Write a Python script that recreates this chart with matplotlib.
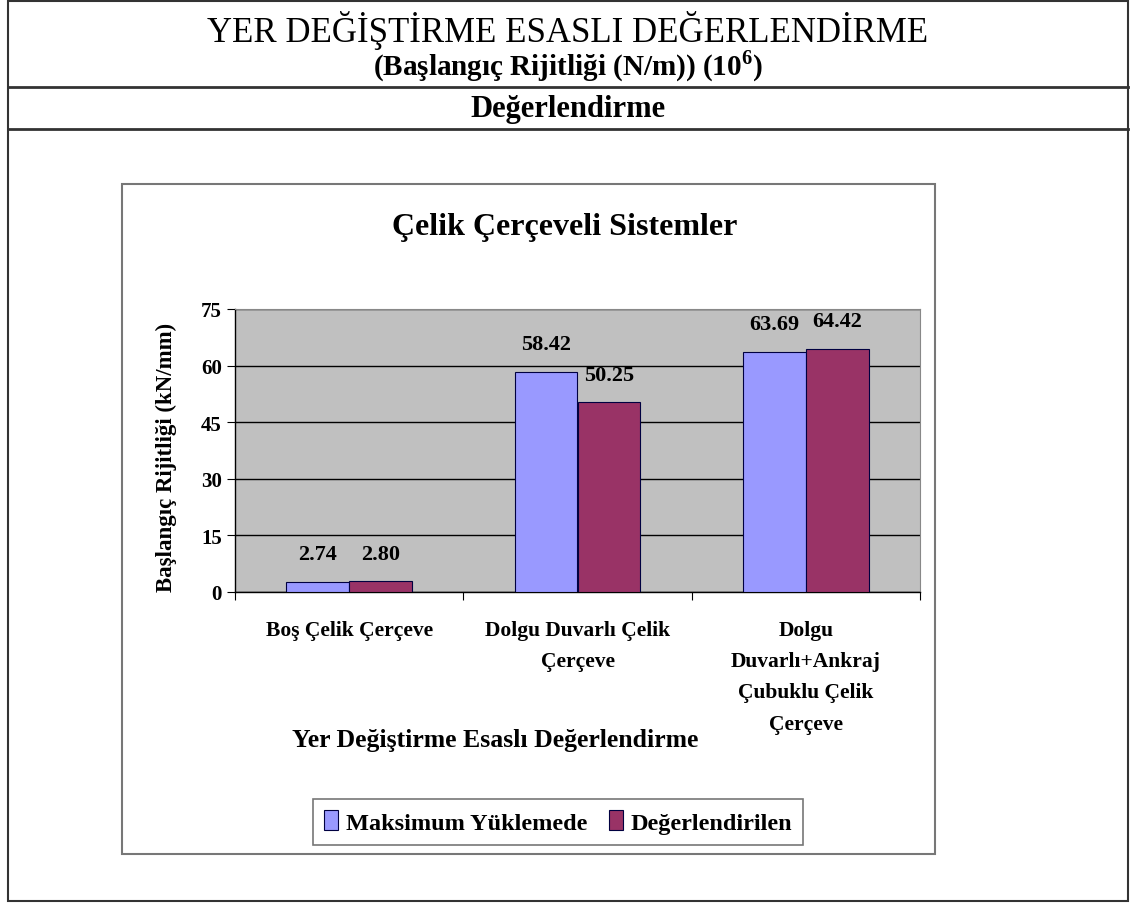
import matplotlib
matplotlib.use("Agg")
import matplotlib.pyplot as plt
import numpy as np
from matplotlib.patches import Rectangle
from matplotlib.lines import Line2D

categories = ["Boş Çelik Çerçeve", "Dolgu Duvarlı Çelik\nÇerçeve",
              "Dolgu\nDuvarlı+Ankraj\nÇubuklu Çelik\nÇerçeve"]
series_names = ["Maksimum Yüklemede", "Değerlendirilen"]
maks = [2.74, 58.42, 63.69]
deger = [2.80, 50.25, 64.42]
yticks = [0, 15, 30, 45, 60, 75]

plt.rcParams["mathtext.fontset"] = "custom"
plt.rcParams["mathtext.rm"] = "Liberation Serif"
plt.rcParams["mathtext.bf"] = "Liberation Serif:bold"

W, H = 1136, 904
fig = plt.figure(figsize=(W / 100, H / 100), dpi=100)
fig.patch.set_facecolor("white")
FAM = ["Liberation Serif", "DejaVu Serif"]

def fx(x): return x / W
def fy(y): return 1 - y / H

# outer table
fig.add_artist(Rectangle((fx(8), fy(902)), fx(1128) - fx(8), fy(2) - fy(902),
                         transform=fig.transFigure, fill=False, edgecolor="#333333", lw=1.5))
for yy in (88, 130):
    fig.add_artist(Line2D([fx(8), fx(1128)], [fy(yy), fy(yy)], transform=fig.transFigure,
                          color="#333333", lw=2))
fig.text(0.5, fy(31), "YER DEĞİŞTİRME ESASLI DEĞERLENDİRME", ha="center", va="center",
         family=FAM, fontsize=25)
fig.text(0.5, fy(66), "(Başlangıç Rijitliği (N/m)) (10$^{\\mathbf{6}}$)", ha="center", va="center",
         family=FAM, fontsize=21, fontweight="bold")
fig.text(0.5, fy(110), "Değerlendirme", ha="center", va="center",
         family=FAM, fontsize=22, fontweight="bold")

# chart frame
fig.add_artist(Rectangle((fx(122), fy(855)), fx(935) - fx(122), fy(185) - fy(855),
                         transform=fig.transFigure, fill=False, edgecolor="#777777", lw=1.5))
fig.text(fx(565), fy(228), "Çelik Çerçeveli Sistemler", ha="center", va="center",
         family=FAM, fontsize=23, fontweight="bold")

ax = fig.add_axes([fx(235), fy(593), fx(920) - fx(235), fy(310) - fy(593)])
ax.set_facecolor("#C0C0C0")
x = np.arange(len(categories))
bw = 0.275
b1 = ax.bar(x - bw / 2, maks, bw, color="#9999FF", edgecolor="#000040", lw=0.8,
            label=series_names[0], zorder=3)
b2 = ax.bar(x + bw / 2, deger, bw, color="#993366", edgecolor="#000040", lw=0.8,
            label=series_names[1], zorder=3)
for bars, vals in ((b1, maks), (b2, deger)):
    for r, v in zip(bars, vals):
        ax.annotate(f"{v:.2f}", (r.get_x() + r.get_width() / 2, v), xytext=(0, 20),
                    textcoords="offset points", ha="center", va="center",
                    family=FAM, fontsize=16, fontweight="bold", zorder=4)
ax.set_xlim(-0.5, 2.5)
ax.set_ylim(0, 75)
ax.set_yticks(yticks)
ax.yaxis.grid(True, color="black", lw=1, zorder=1)
ax.set_xticks([-0.5, 0.5, 1.5, 2.5])
ax.set_xticklabels([])
ax.set_xticks(x, minor=True)
ax.set_xticklabels(categories, minor=True, family=FAM, fontsize=15.5, fontweight="bold",
                   linespacing=1.75)
ax.tick_params(axis="x", which="minor", length=0, pad=20)
ax.tick_params(axis="x", which="major", length=6, direction="out")
ax.tick_params(axis="y", length=6, direction="out")
for lab in ax.get_yticklabels():
    lab.set_family(FAM); lab.set_fontsize(15); lab.set_fontweight("bold")
for s in ("top", "right"):
    ax.spines[s].set_color("#888888"); ax.spines[s].set_linewidth(0.8)
for s in ("left", "bottom"):
    ax.spines[s].set_color("black"); ax.spines[s].set_linewidth(1)
ax.set_ylabel("Başlangıç Rijitliği (kN/mm)", family=FAM, fontsize=16.5, fontweight="bold")
ax.yaxis.set_label_coords(-0.085, 0.48)

fig.text(fx(495), fy(740), "Yer Değiştirme Esaslı Değerlendirme", ha="center", va="center",
         family=FAM, fontsize=18.5, fontweight="bold")

leg = fig.legend(handles=[b1, b2], labels=series_names, loc="center",
                 bbox_to_anchor=(fx(558), fy(823)), ncol=2, frameon=True, fancybox=False,
                 prop={"family": FAM, "size": 17.5, "weight": "bold"},
                 handlelength=0.6, handleheight=0.9, handletextpad=0.3, columnspacing=0.9,
                 borderpad=0.45, edgecolor="#555555")
leg.get_frame().set_linewidth(1.2)

fig.savefig("out.png", dpi=100)
